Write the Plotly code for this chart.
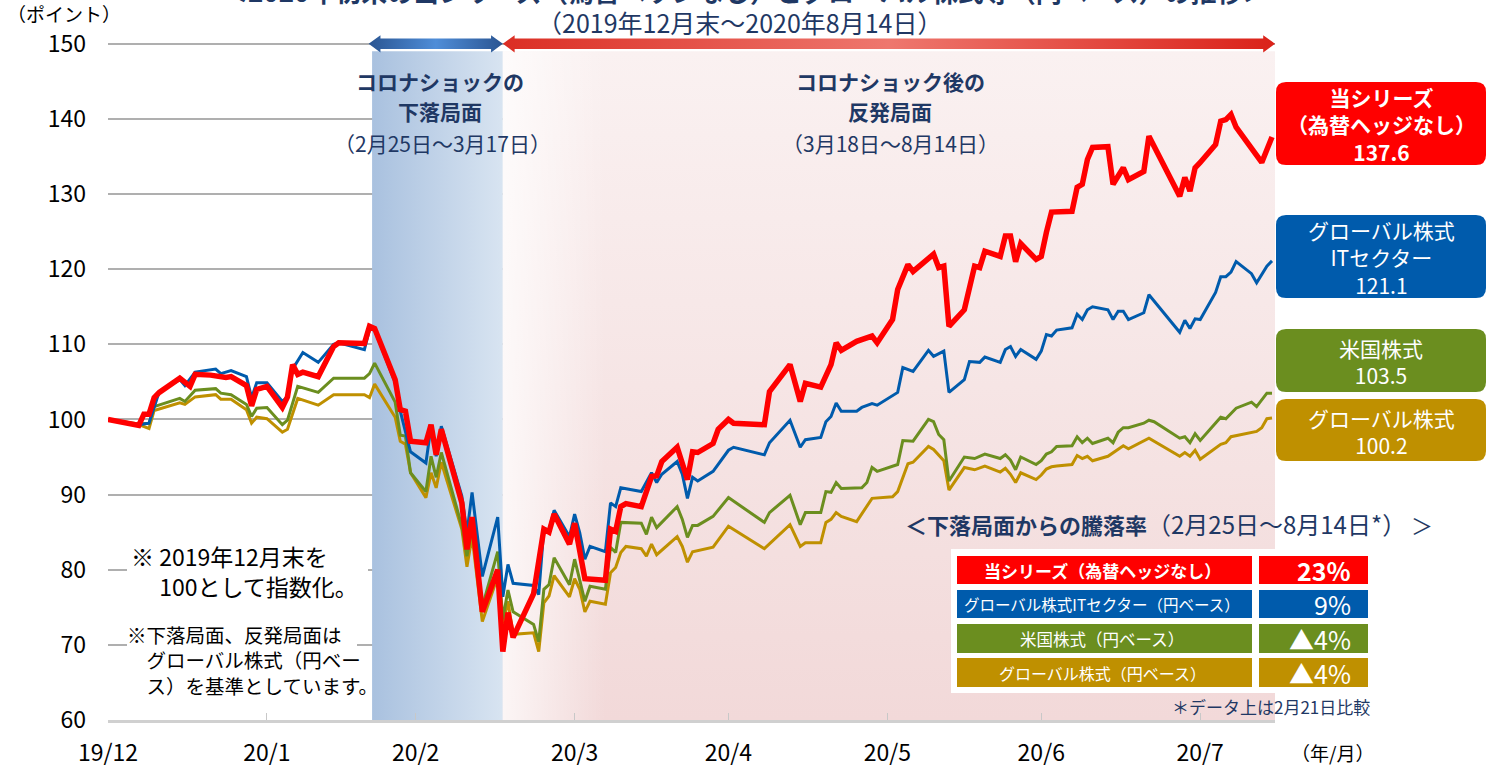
import pandas as pd
import plotly.graph_objects as go

# ---------------- data (index, 2019-12-31 = 100) ----------------
red_md = ["12-31","01-06","01-07","01-08","01-09","01-10","01-14","01-16","01-17","01-20","01-23","01-24","01-27","01-28","01-29","01-31",
          "02-03","02-04","02-05","02-06","02-07","02-10","02-13","02-14","02-19","02-20","02-21","02-25","02-26","02-27","02-28",
          "03-02","03-03","03-04","03-05","03-09","03-10","03-11","03-13","03-16","03-17","03-18","03-19","03-23","03-25","03-26","03-27","03-30","03-31",
          "04-02","04-06","04-07","04-08","04-09","04-10","04-13","04-15","04-16","04-17","04-20","04-22","04-23","04-24","04-27","04-28","04-30",
          "05-01","05-07","05-08","05-12","05-14","05-15","05-18","05-20","05-21","05-22","05-25","05-26","05-28","05-29",
          "06-01","06-02","06-04","06-05","06-09","06-10","06-11","06-12","06-15","06-17","06-18","06-19","06-22","06-23","06-24","06-25","06-26","06-29","06-30",
          "07-01","07-02","07-06","07-07","07-08","07-09","07-10","07-13","07-14","07-16","07-17","07-20","07-21","07-27","07-28","07-29","07-30","07-31",
          "08-03","08-04","08-05","08-06","08-07","08-12","08-14"]
red_vals = [100,99.2,100.7,100.7,102.9,103.6,105.5,104.4,106.0,105.9,105.6,105.7,104.5,101.8,104.0,104.4,
            101.6,103.0,107.3,106.0,106.3,105.7,109.7,110.2,110.1,112.4,112.1,105.3,101.3,101.1,97.1,
            96.9,99.3,95.3,98.7,88.9,82.7,87.0,74.4,80.0,69.1,74.3,71.0,76.8,85.4,85.0,87.4,83.4,86.2,
            78.8,78.6,85.4,85.1,88.4,88.8,88.4,92.4,92.5,94.4,96.3,92.0,95.7,95.6,96.8,98.7,100.0,
            99.5,99.3,103.7,107.3,102.4,104.8,104.3,107.3,110.2,109.2,110.4,110.6,111.1,110.2,
            113.3,117.3,120.6,119.7,122.0,120.2,120.4,112.4,114.6,120.4,120.2,122.4,121.7,124.4,124.4,121.0,123.4,121.3,121.7,
            124.9,127.6,127.7,130.9,131.3,134.6,136.2,136.3,131.3,133.5,131.9,133.0,137.7,129.7,132.2,130.4,133.5,134.2,
            136.6,139.7,139.9,140.6,138.9,134.2,137.6]

blue_md = ["12-31","01-06","01-08","01-10","01-14","01-15","01-17","01-21","01-22","01-24","01-27","01-28","01-29","01-31",
           "02-03","02-04","02-05","02-07","02-10","02-13","02-14","02-19","02-20","02-21","02-25","02-26","02-28",
           "03-02","03-03","03-04","03-05","03-09","03-10","03-11","03-13","03-16","03-17","03-18","03-19","03-23","03-24","03-25","03-26","03-27","03-30","03-31",
           "04-01","04-02","04-03","04-06","04-07","04-08","04-09","04-13","04-15","04-16","04-17","04-20","04-21","04-22","04-23","04-24","04-27","04-30",
           "05-01","05-07","05-08","05-12","05-14","05-15","05-18","05-19","05-20","05-21","05-22","05-25","05-26","05-28","05-29",
           "06-02","06-03","06-05","06-08","06-09","06-11","06-12","06-15","06-16","06-18","06-19","06-22","06-23","06-24","06-25","06-26","06-29","06-30",
           "07-01","07-02","07-03","07-06","07-07","07-08","07-09","07-10","07-13","07-14","07-15","07-16","07-17","07-20","07-21","07-27","07-28","07-29","07-30","07-31",
           "08-03","08-04","08-05","08-06","08-07","08-10","08-11","08-13","08-14"]
blue_vals = [100,99.3,99.5,103.7,105.3,104.5,106.3,106.7,106.1,106.5,105.7,102.9,104.9,104.9,
             102.4,103.0,106.7,108.9,107.6,110.0,110.2,109.3,112.0,111.9,104.9,101.1,95.7,
             94.2,99.1,95.1,99.1,89.8,84.9,90.3,79.1,87.0,76.4,80.7,78.2,77.9,76.7,85.5,85.3,87.9,84.4,87.4,
             84.9,81.4,83.1,82.4,88.9,88.4,90.9,90.4,92.9,91.6,92.7,94.4,92.7,89.5,92.3,91.8,93.1,95.9,
             96.3,95.3,96.9,99.9,96.3,97.3,97.6,99.7,100.4,102.2,101.1,101.1,101.6,102.1,101.9,
             103.6,106.9,106.4,109.2,108.4,109.1,103.6,105.3,107.7,107.6,108.3,107.6,109.3,109.7,108.4,109.3,108.0,109.1,
             111.3,111.1,111.9,112.2,114.0,113.3,114.6,115.0,114.6,113.3,114.4,114.4,113.3,114.2,116.6,111.6,113.2,112.1,113.4,113.3,
             116.9,119.0,119.0,119.6,121.0,119.4,118.2,120.4,121.1]

green_md = ["12-31","01-06","01-08","01-09","01-14","01-15","01-17","01-21","01-22","01-24","01-27","01-28","01-29","01-31",
            "02-03","02-04","02-06","02-10","02-13","02-19","02-20","02-21","02-25","02-26","02-27","02-28",
            "03-02","03-03","03-04","03-05","03-09","03-10","03-11","03-13","03-16","03-17","03-18","03-19","03-23","03-24","03-25","03-26","03-27","03-30","03-31",
            "04-01","04-02","04-03","04-06","04-07","04-08","04-09","04-13","04-14","04-15","04-16","04-20","04-21","04-22","04-23","04-24","04-27","04-30",
            "05-07","05-08","05-12","05-14","05-15","05-18","05-19","05-20","05-21","05-22","05-26","05-27","05-28","05-29",
            "06-02","06-03","06-05","06-08","06-09","06-10","06-11","06-12","06-15","06-17","06-19","06-22","06-23","06-24","06-25","06-26","06-29","06-30",
            "07-01","07-02","07-03","07-06","07-07","07-08","07-09","07-10","07-13","07-14","07-15","07-16","07-17","07-20","07-21","07-22","07-27","07-28","07-29","07-30","07-31",
            "08-04","08-05","08-07","08-10","08-11","08-13","08-14"]
green_vals = [100,99.4,99.5,101.7,102.8,102.4,103.9,104.1,103.5,103.3,102.0,100.4,101.5,101.6,
              99.3,99.9,104.4,103.6,105.5,105.5,106.1,107.5,102.3,97.9,97.8,92.9,
              90.4,95.1,92.3,95.6,85.8,81.8,85.4,75.1,82.4,73.4,77.3,74.4,72.7,70.4,77.4,78.0,81.6,78.0,81.4,
              78.7,75.8,77.8,77.4,83.0,82.3,86.3,86.2,84.7,87.0,85.6,88.4,86.7,84.3,85.9,85.9,87.1,89.6,
              86.3,87.6,89.9,86.0,87.6,87.6,90.4,90.3,91.6,90.8,90.9,91.6,93.6,93.1,
              94.0,97.2,97.1,100.0,99.7,98.0,97.3,91.8,95.0,94.8,95.4,94.8,95.3,94.6,93.3,95.0,94.0,94.5,
              95.4,95.7,96.4,96.5,97.7,96.9,97.5,96.8,97.5,96.9,98.3,98.9,98.9,99.5,99.9,99.7,97.5,97.7,96.9,98.1,97.2,
              100.3,100.1,101.5,102.3,101.7,103.5,103.5]

gold_md = ["12-31","01-06","01-08","01-09","01-14","01-15","01-17","01-21","01-22","01-24","01-27","01-28","01-29","01-31",
           "02-03","02-04","02-06","02-10","02-13","02-19","02-20","02-21","02-25","02-26","02-27","02-28",
           "03-02","03-03","03-04","03-05","03-09","03-10","03-11","03-13","03-16","03-17","03-18","03-19","03-23","03-24","03-25","03-26","03-27","03-30","03-31",
           "04-01","04-02","04-03","04-06","04-07","04-08","04-09","04-10","04-13","04-14","04-15","04-16","04-20","04-21","04-22","04-23","04-27","04-30",
           "05-07","05-12","05-14","05-15","05-18","05-19","05-20","05-21","05-22","05-25","05-28",
           "06-01","06-02","06-04","06-05","06-08","06-09","06-11","06-12","06-15","06-17","06-19","06-22","06-23","06-24","06-25","06-26","06-29","06-30",
           "07-01","07-02","07-03","07-06","07-07","07-08","07-09","07-10","07-13","07-16","07-17","07-20","07-21","07-27","07-28","07-29","07-30","07-31",
           "08-04","08-05","08-06","08-11","08-12","08-13","08-14"]
gold_vals = [100,99.3,98.8,101.2,102.2,102.0,103.0,103.3,102.7,102.7,101.3,99.5,100.3,100.1,
             98.3,98.7,102.8,101.9,103.3,103.3,102.9,104.7,100.3,97.1,96.7,92.9,
             89.6,92.9,90.9,94.3,85.4,80.4,84.4,73.1,79.1,72.7,75.8,71.4,71.6,69.1,75.6,76.5,79.2,76.4,78.8,
             77.4,74.4,75.8,75.4,79.6,80.3,82.3,83.1,82.8,81.8,83.4,82.0,84.4,83.1,81.0,82.4,83.0,85.8,
             82.8,86.0,83.1,83.6,83.6,86.3,86.7,87.6,87.1,86.4,89.5,
             89.7,90.4,94.1,94.3,96.4,96.0,94.5,90.6,93.6,93.3,93.8,93.0,93.5,92.7,91.6,92.9,92.0,92.6,
             93.4,93.7,93.8,94.0,95.2,94.8,95.1,94.5,95.1,96.5,96.1,97.1,97.5,95.1,95.6,95.1,95.9,94.7,
             96.7,96.9,97.7,98.4,98.9,100.1,100.2]

box_labels = ["<b>当シリーズ<br>（為替ヘッジなし）<br>137.6</b>",
              "グローバル株式<br>ITセクター<br>121.1",
              "米国株式<br>103.5",
              "グローバル株式<br>100.2"]
table_labels = ["当シリーズ（為替ヘッジなし）", "グローバル株式ITセクター（円ベース）", "米国株式（円ベース）", "グローバル株式（円ベース）"]
table_values = ["23%", "9%", "▲4%", "▲4%"]

tick_dates = ["2019-12-31","2020-01-31","2020-02-29","2020-03-31","2020-04-30","2020-05-31","2020-06-30","2020-07-31"]
tick_text = ["19/12","20/1","20/2","20/3","20/4","20/5","20/6","20/7"]

axis_start = "2019-12-31"
axis_end = "2020-08-14 14:00"
drop_start = "2020-02-20 12:00"
drop_end = "2020-03-17"
rebound_end = "2020-08-14 14:00"


def to_dates(md):
    return [("2019-" if d == "12-31" else "2020-") + d for d in md]


# ---------------- colours / fonts ----------------
FONT = "Noto Sans CJK JP"
NAVY = "#1F3864"
C_RED = "#FF0000"
C_BLUE = "#005BAC"
C_GREEN = "#6B8E1F"
C_GOLD = "#BF9000"

W, H = 1493, 769
L, R, T, B = 108, 1275, 34, 720
Y0, Y1 = 60, 151.3


def px(x):
    return (x - L) / (R - L)


def py(y):
    return (B - y) / (B - T)


fig = go.Figure()

# shaded phases
ts = pd.Timestamp
fig.add_trace(go.Scatter(
    x=[ts(drop_start), ts(drop_end), ts(drop_end), ts(drop_start), ts(drop_start)],
    y=[Y0, Y0, 149, 149, Y0], mode="lines", line=dict(width=0), fill="toself",
    fillgradient=dict(type="horizontal", colorscale=[[0, "#A9C1DF"], [1, "#D8E4F1"]]),
    hoverinfo="skip", showlegend=False))
fig.add_trace(go.Scatter(
    x=[ts(drop_end), ts(rebound_end), ts(rebound_end), ts(drop_end), ts(drop_end)],
    y=[Y0, Y0, 149, 149, Y0], mode="lines", line=dict(width=0), fill="toself",
    fillgradient=dict(type="vertical", colorscale=[[0, "#F2D9D9"], [1, "#FAF1F1"]]),
    hoverinfo="skip", showlegend=False))
fade_end = ts(drop_end) + pd.Timedelta(days=20)
fig.add_trace(go.Scatter(
    x=[ts(drop_end), fade_end, fade_end, ts(drop_end), ts(drop_end)],
    y=[Y0, Y0, 149, 149, Y0], mode="lines", line=dict(width=0), fill="toself",
    fillgradient=dict(type="horizontal", colorscale=[[0, "rgba(255,255,255,0.75)"], [1, "rgba(255,255,255,0)"]]),
    hoverinfo="skip", showlegend=False))


# arrows along the top
def arrow(left, right, colorscale):
    h = pd.Timedelta(days=2.3)
    l, r = ts(left), ts(right)
    xs = [l, l + h, l + h, r - h, r - h, r, r - h, r - h, l + h, l + h, l]
    ys = [150, 151.15, 150.7, 150.7, 151.15, 150, 148.85, 149.3, 149.3, 148.85, 150]
    fig.add_trace(go.Scatter(x=xs, y=ys, mode="lines", line=dict(width=0), fill="toself",
                             fillgradient=dict(type="horizontal", colorscale=colorscale),
                             hoverinfo="skip", showlegend=False))


arrow("2020-02-19 20:00", drop_end, [[0, "#2A5592"], [0.5, "#4F8DD8"], [1, "#2A5592"]])
arrow(drop_end, rebound_end, [[0, "#DB2E24"], [0.5, "#EE776E"], [1, "#DA2219"]])

# lines
for md, vals, col, w in [(gold_md, gold_vals, C_GOLD, 3), (green_md, green_vals, C_GREEN, 3),
                         (blue_md, blue_vals, C_BLUE, 3), (red_md, red_vals, C_RED, 5.5)]:
    fig.add_trace(go.Scatter(x=to_dates(md), y=vals, mode="lines",
                             line=dict(color=col, width=w), hoverinfo="skip", showlegend=False))

shapes = []
ann = []


def txt(x, y, s, size, color, bold=False, xanchor="center", yanchor="middle", align="center"):
    ann.append(dict(x=px(x), y=py(y), xref="paper", yref="paper",
                    text=("<b>%s</b>" % s) if bold else s, showarrow=False,
                    font=dict(family=FONT, size=size, color=color),
                    xanchor=xanchor, yanchor=yanchor, align=align))


def rect(x0, y0, x1, y1, color):
    shapes.append(dict(type="rect", xref="paper", yref="paper", x0=px(x0), x1=px(x1),
                       y0=py(y1), y1=py(y0), fillcolor=color, line=dict(width=0), layer="above"))


def rrect(x0, y0, x1, y1, r, color):
    pts = [("M", x0 + r, y0), ("L", x1 - r, y0), ("Q", x1, y0, x1, y0 + r), ("L", x1, y1 - r),
           ("Q", x1, y1, x1 - r, y1), ("L", x0 + r, y1), ("Q", x0, y1, x0, y1 - r), ("L", x0, y0 + r),
           ("Q", x0, y0, x0 + r, y0)]
    path = ""
    for p in pts:
        coords = p[1:]
        seg = ["%.5f,%.5f" % (px(coords[i]), py(coords[i + 1])) for i in range(0, len(coords), 2)]
        path += p[0] + " " + " ".join(seg) + " "
    shapes.append(dict(type="path", xref="paper", yref="paper", path=path + "Z",
                       fillcolor=color, line=dict(width=0), layer="above"))


# titles
txt(745, -10, "＜2020年初来の当シリーズ（為替ヘッジなし）とグローバル株式等（円ベース）の推移＞", 26, NAVY, bold=True)
txt(739, 22, "（2019年12月末～2020年8月14日）", 25, NAVY)
txt(5, 14, "（ポイント）", 19, "#000000", xanchor="left")
txt(1332, 752, "（年/月）", 19, "#000000")

# phase labels
txt(440, 81, "コロナショックの", 21, NAVY, bold=True)
txt(440, 111, "下落局面", 21, NAVY, bold=True)
txt(442, 143, "（2月25日～3月17日）", 21, NAVY)
txt(890, 81, "コロナショック後の", 21, NAVY, bold=True)
txt(890, 111, "反発局面", 21, NAVY, bold=True)
txt(890, 143, "（3月18日～8月14日）", 21, NAVY)

# left notes
rect(127, 540, 368, 602, "white")
rect(127, 620, 357, 702, "white")
txt(129, 571, "※ 2019年12月末を<br>　&nbsp;100として指数化。", 23, "#000000", xanchor="left", align="left")
txt(125, 660, "※下落局面、反発局面は<br>　グローバル株式（円ベー<br>　ス）を基準としています。", 19.5, "#000000",
    xanchor="left", align="left")

# right labels
boxes = [(82, 165, C_RED), (215, 298, C_BLUE), (329, 392, C_GREEN), (399, 461, C_GOLD)]
for i, (y0, y1, col) in enumerate(boxes):
    rrect(1276, y0, 1486, y1, 10, col)
    txt(1381, (y0 + y1) / 2 + 1, box_labels[i], 21, "white")

# table
txt(1169, 523, "<b>＜下落局面からの騰落率</b><span style='font-size:24px'>（2月25日～8月14日*）</span> ＞", 22, NAVY)
rect(951, 549, 1373, 693, "white")
row_cols = [C_RED, C_BLUE, C_GREEN, C_GOLD]
row_y = [(556, 584), (590, 618), (624, 653), (658, 687)]
label_sizes = [17, 15.5, 16.5, 16]
for i in range(4):
    y0, y1 = row_y[i]
    rect(957, y0, 1252, y1, row_cols[i])
    rect(1259, y0, 1368, y1, row_cols[i])
    yc = (y0 + y1) / 2
    txt(1102, yc, table_labels[i], label_sizes[i], "white", bold=(i == 0))
    txt(1353, yc, table_values[i], 25, "white", bold=(i == 0), xanchor="right")
txt(1372, 706, "＊データ上は2月21日比較", 17, NAVY, xanchor="right")

fig.update_layout(
    width=W, height=H, autosize=False,
    margin=dict(l=L, r=W - R, t=T, b=H - B, pad=0),
    paper_bgcolor="white", plot_bgcolor="white", showlegend=False,
    shapes=shapes, annotations=ann,
    xaxis=dict(type="date", range=[axis_start, axis_end], tickvals=tick_dates, ticktext=tick_text,
               ticks="inside", ticklen=7, tickcolor="#C8C8C8", tickwidth=1, automargin=False,
               showgrid=False, zeroline=False, showline=True, linecolor="#D0D0D0", linewidth=3,
               tickfont=dict(family=FONT, size=23, color="#000000"), ticklabelstandoff=10),
    yaxis=dict(range=[Y0, Y1], tick0=60, dtick=10, showgrid=True, gridcolor="#AFAFAF", gridwidth=1.6,
               zeroline=False, showline=False, ticks="", automargin=False,
               tickfont=dict(family=FONT, size=23, color="#000000"), ticklabelstandoff=21),
)

fig.write_html("out.html", config={"displayModeBar": False, "responsive": False},
               post_script="document.body.style.margin='0px';document.body.style.overflow='hidden';")
